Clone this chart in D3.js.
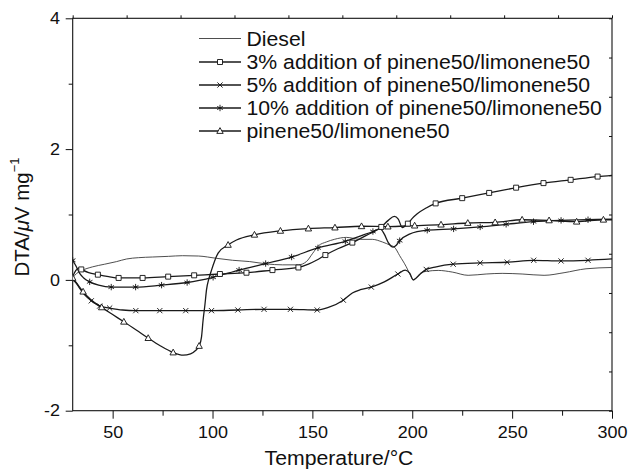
<!DOCTYPE html>
<html>
<head>
<meta charset="utf-8">
<script src="https://cdn.jsdelivr.net/npm/d3@7"></script>
<style>
  body { margin: 0; background: #fff; }
  svg text { font-family: "Liberation Sans", Arial, Helvetica, sans-serif; fill: #111; }
</style>
</head>
<body>
<div id="chart"></div>
<script>
// points are [temperature, DTA, marker]
var diesel = [[30,0.03],[32,0.1],[34.3,0.14],[40,0.2],[46,0.24],[52,0.28],[57,0.32],[63,0.34],[70,0.35],[78,0.36],[85,0.37],[93,0.365],[102,0.33],[110,0.3],[118.6,0.28],[127,0.245],[135,0.23],[143,0.23],[147,0.28],[150,0.4],[153,0.52],[157,0.58],[161,0.62],[167,0.65],[174,0.62],[180,0.62],[185,0.58],[189,0.53],[191.1,0.5],[193.7,0.37],[197,0.2],[198.6,0.1],[200.5,0.0],[202,0.03],[204.5,0.11],[207,0.13],[213,0.145],[220,0.12],[228,0.07],[237,0.09],[245,0.1],[255,0.09],[266,0.07],[276,0.11],[287,0.17],[300,0.19]];

var add3 = [[30,0.05],[31.5,0.14],[33,0.18],[34.3,0.16,1],[38,0.11],[42.6,0.08,1],[48,0.05],[53,0.03,1],[65,0.03,1],[77.8,0.05,1],[90.8,0.07,1],[103.7,0.09,1],[117,0.11,1],[130,0.15,1],[143,0.19,1],[148,0.24],[152,0.3],[156.5,0.38,1],[163,0.48],[170,0.57,1],[177,0.68],[184.5,0.81,1],[188,0.91],[191,0.97],[193,0.93],[195,0.8],[197.8,0.86,1],[200,0.94],[202.5,1.01],[207,1.1],[211.7,1.17,1],[225,1.25,1],[238.5,1.33,1],[252,1.41,1],[265.7,1.48,1],[279.3,1.53,1],[292.8,1.58,1],[300,1.6]];

var add5 = [[30,0.0],[31.5,-0.04],[33.5,-0.13],[36,-0.23],[39.3,-0.32,1],[43.5,-0.4,1],[48.5,-0.43,1],[55,-0.46],[61.6,-0.47,1],[73.6,-0.47,1],[86.6,-0.47,1],[99.5,-0.47,1],[112.7,-0.46,1],[125.8,-0.45,1],[139,-0.45,1],[152.4,-0.46,1],[158,-0.42],[165.5,-0.31,1],[170,-0.2],[174,-0.15],[179.5,-0.11,1],[186,-0.03],[192.8,0.09,1],[196.5,0.15],[198.8,0.1],[200.5,0.0],[202,0.03],[204,0.09],[207,0.16,1],[212,0.2],[220.5,0.24,1],[234,0.26,1],[247.5,0.27,1],[260.8,0.3,1],[274.5,0.29,1],[288,0.3,1],[300,0.32]];

var add10 = [[30,0.3,1],[31.5,0.22],[33.5,0.1],[35.5,0.03],[38.5,-0.03,1],[43,-0.08],[49.3,-0.11,1],[61.5,-0.11,1],[74.5,-0.08,1],[87.3,-0.04,1],[100.3,0.04,1],[113.3,0.15,1],[126.6,0.25,1],[139.6,0.35,1],[152.8,0.49,1],[166.5,0.59,1],[180.3,0.74,1],[184,0.78],[186,0.7],[188,0.57],[190.5,0.5],[192,0.53],[193.7,0.6,1],[198.6,0.7],[207.5,0.76,1],[220.7,0.78,1],[234,0.81,1],[247,0.85,1],[260.7,0.89,1],[274.5,0.91,1],[288,0.92,1],[300,0.93]];

var pinene = [[30,0.03,1],[32,-0.05],[35.2,-0.18,1],[39,-0.3],[44.5,-0.42,1],[50,-0.53],[55.6,-0.64,1],[62,-0.77],[67.8,-0.89,1],[74,-1.01],[80.3,-1.11,1],[85.3,-1.15],[89,-1.13],[91.5,-1.08],[93.3,-1.01,1],[94.5,-0.87],[95.3,-0.61],[96.2,-0.38],[97,-0.15],[98.2,0.02],[99.5,0.15],[102.8,0.41],[107.8,0.535,1],[112,0.61],[121,0.69,1],[134,0.75,1],[148,0.785,1],[161.3,0.8,1],[174.6,0.82,1],[187.8,0.815,1],[201.2,0.83,1],[214.4,0.845,1],[227.8,0.87,1],[241.5,0.88,1],[255,0.92,1],[268.5,0.91,1],[282.3,0.89,1],[295.7,0.92,1],[300,0.92]];

var seriesNames = ["Diesel", "3% addition of pinene50/limonene50", "5% addition of pinene50/limonene50",
  "10% addition of pinene50/limonene50", "pinene50/limonene50"];
var xTicks = [50, 100, 150, 200, 250, 300];
var xMinor = [75, 125, 175, 225, 275];
var yTicks = [-2, 0, 2, 4];
var yMinor = [-1, 1, 3];

var svgWidth = 630, svgHeight = 471;
var plotLeft = 72.7, plotRight = 612, plotTop = 18.3, plotBottom = 410.7;
var stretch = "scale(1.09,1)";

var svg = d3.select("#chart").append("svg")
  .attr("width", svgWidth)
  .attr("height", svgHeight);

var x = d3.scaleLinear().domain([30, 300]).range([plotLeft, plotRight]);
var y = d3.scaleLinear().domain([-2, 4]).range([plotBottom, plotTop]);

svg.append("clipPath").attr("id", "plot")
  .append("rect")
  .attr("x", plotLeft).attr("y", plotTop)
  .attr("width", plotRight - plotLeft).attr("height", plotBottom - plotTop);

// axes
var xAxis = svg.append("g")
  .attr("transform", `translate(0,${plotBottom})`)
  .call(d3.axisBottom(x).tickValues(xTicks).tickSize(8).tickPadding(8).tickFormat(d => String(d)));
svg.append("g")
  .attr("transform", `translate(0,${plotBottom})`)
  .call(d3.axisBottom(x).tickValues(xMinor).tickSize(5).tickFormat(""));
var yAxis = svg.append("g")
  .attr("transform", `translate(${plotLeft},0)`)
  .call(d3.axisLeft(y).tickValues(yTicks).tickSize(7).tickFormat(d => String(d)));
svg.append("g")
  .attr("transform", `translate(${plotLeft},0)`)
  .call(d3.axisLeft(y).tickValues(yMinor).tickSize(4).tickFormat(""));

// mirror ticks on top and right
var topScale = d3.scaleLinear().domain([0, 10]).range([plotLeft, plotRight]);
svg.append("g")
  .attr("transform", `translate(0,${plotTop})`)
  .call(d3.axisTop(topScale).ticks(10).tickSize(3).tickFormat(""));
var rightScale = d3.scaleLinear().domain([0, 10]).range([plotBottom, plotTop]);
svg.append("g")
  .attr("transform", `translate(${plotRight},0)`)
  .call(d3.axisRight(rightScale).ticks(10).tickSize(-3).tickFormat(""));

svg.selectAll(".domain").remove();
svg.selectAll(".tick line").attr("stroke", "#111").attr("stroke-width", 1);

xAxis.selectAll("text")
  .attr("font-size", "16.5px")
  .attr("transform", stretch);
yAxis.selectAll("text")
  .attr("font-size", "16.5px")
  .attr("x", -12.7 / 1.09)
  .attr("transform", stretch);

svg.append("rect")
  .attr("x", plotLeft).attr("y", plotTop)
  .attr("width", plotRight - plotLeft).attr("height", plotBottom - plotTop)
  .attr("fill", "none")
  .attr("stroke", "#111")
  .attr("stroke-width", 1.1);

// axis titles
svg.append("text")
  .attr("transform", `translate(339,465) ${stretch}`)
  .attr("text-anchor", "middle")
  .attr("font-size", "19.5px")
  .text("Temperature/°C");

var yTitle = svg.append("text")
  .attr("transform", "translate(29,217) rotate(-90)")
  .attr("text-anchor", "middle")
  .attr("font-size", "20.5px");
yTitle.append("tspan").text("DTA/");
yTitle.append("tspan").attr("font-style", "italic").text("μ");
yTitle.append("tspan").text("V mg");
yTitle.append("tspan").attr("font-size", "13px").attr("dy", "-0.75em").text("−1");

// markers
function squarePath(s) {
  return `M${-s},${-s}H${s}V${s}H${-s}Z`;
}
function trianglePath(s) {
  return `M0,${-s * 1.05}L${s},${s * 0.75}L${-s},${s * 0.75}Z`;
}
function crossPath(s) {
  return `M${-s},${-s}L${s},${s}M${-s},${s}L${s},${-s}`;
}
function starPath(s) {
  var a = s * 0.87, b = s * 0.5;
  return `M0,${-s}V${s}M${-a},${-b}L${a},${b}M${-a},${b}L${a},${-b}`;
}

var series = [
  { name: seriesNames[0], data: diesel, color: "#3a3a3a", width: 0.9, marker: null },
  { name: seriesNames[1], data: add3, color: "#1a1a1a", width: 1.3, marker: squarePath(2.5), fill: "#fff" },
  { name: seriesNames[2], data: add5, color: "#1a1a1a", width: 1.3, marker: crossPath(2.6), fill: "none" },
  { name: seriesNames[3], data: add10, color: "#1a1a1a", width: 1.3, marker: starPath(3.2), fill: "none" },
  { name: seriesNames[4], data: pinene, color: "#1a1a1a", width: 1.3, marker: trianglePath(3.2), fill: "#fff" }
];

var line = d3.line()
  .x(d => x(d[0]))
  .y(d => y(d[1]))
  .curve(d3.curveMonotoneX);

var plot = svg.append("g").attr("clip-path", "url(#plot)");

series.forEach(function(s) {
  plot.append("path")
    .datum(s.data)
    .attr("fill", "none")
    .attr("stroke", s.color)
    .attr("stroke-width", s.width)
    .attr("d", line);
});

series.forEach(function(s) {
  if (!s.marker) return;
  plot.selectAll(null)
    .data(s.data.filter(d => d[2]))
    .enter()
    .append("path")
    .attr("transform", d => `translate(${x(d[0])},${y(d[1])})`)
    .attr("d", s.marker)
    .attr("fill", s.fill)
    .attr("stroke", "#111")
    .attr("stroke-width", 0.9);
});

// legend
var legend = svg.append("g");
var rowY = [38.5, 62, 85, 108, 131];
series.forEach(function(s, i) {
  var g = legend.append("g").attr("transform", `translate(0,${rowY[i]})`);
  g.append("line")
    .attr("x1", 199).attr("x2", 241)
    .attr("stroke", s.color)
    .attr("stroke-width", s.width);
  if (s.marker) {
    g.append("path")
      .attr("transform", "translate(220,0)")
      .attr("d", s.marker)
      .attr("fill", s.fill)
      .attr("stroke", "#111")
      .attr("stroke-width", 0.9);
  }
  g.append("text")
    .attr("transform", `translate(246.5,7) ${stretch}`)
    .attr("font-size", "19.5px")
    .text(s.name);
});
</script>
</body>
</html>
